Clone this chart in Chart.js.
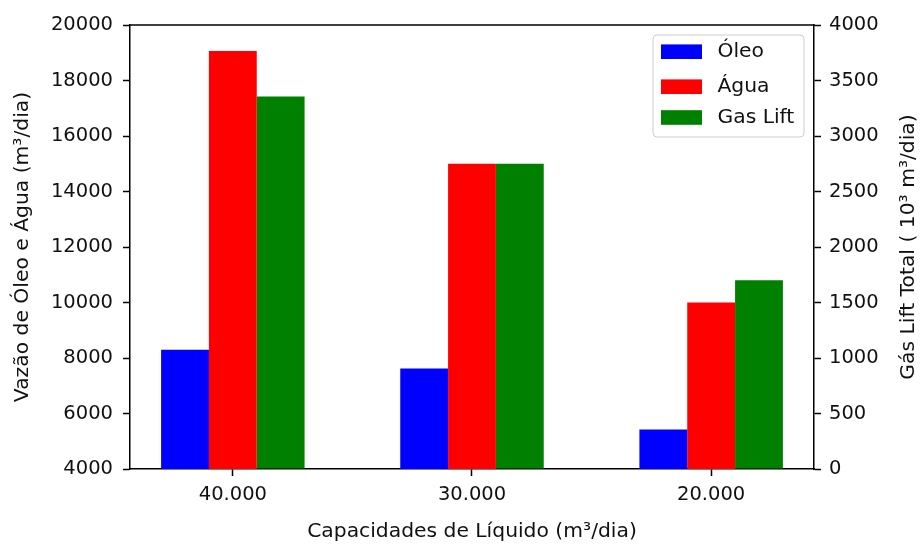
<!DOCTYPE html>
<html>
<head>
<meta charset="utf-8">
<script src="https://cdn.jsdelivr.net/npm/chart.js@4/dist/chart.umd.min.js"></script>
<style>
  html, body { margin: 0; padding: 0; background: #ffffff; }
  #wrap { width: 920px; height: 544px; position: relative; }
</style>
</head>
<body>
<div id="wrap"><canvas id="c" width="920" height="544"></canvas></div>
<script>
// ---- data ----
const categories = ['40.000', '30.000', '20.000'];
const oleo = [8300, 7620, 5420];        // left axis (m³/dia)
const agua = [19060, 15000, 10000];     // left axis (m³/dia)
const gasLift = [3355, 2750, 1700];     // right axis (10³ m³/dia)
const seriesNames = ['Óleo', 'Água', 'Gas Lift'];
const leftTicks = [4000, 6000, 8000, 10000, 12000, 14000, 16000, 18000, 20000];
const rightTicks = [0, 500, 1000, 1500, 2000, 2500, 3000, 3500, 4000];

const xTitle = 'Capacidades de Líquido (m³/dia)';
const yTitle = 'Vazão de Óleo e Água (m³/dia)';
const y1Title = 'Gás Lift Total ( 10³ m³/dia)';

const FONT = 'DejaVu Sans';
const FS = 19.5;     // tick labels
const FT = 20.3;     // titles and legend
const TXT = '#111111';

function pts(arr) { return arr.map((v, i) => ({ x: i, y: v })); }

const topSpine = {
  id: 'topSpine',
  afterDraw(chart) {
    const { ctx, chartArea: a } = chart;
    ctx.save();
    ctx.strokeStyle = '#000';
    ctx.lineWidth = 1.5;
    ctx.beginPath();
    ctx.moveTo(a.left - 0.75, a.top);
    ctx.lineTo(a.right + 0.75, a.top);
    ctx.stroke();
    ctx.restore();
  }
};

const rightTitle = {
  id: 'rightTitle',
  afterDraw(chart) {
    const { ctx, chartArea: a } = chart;
    ctx.save();
    ctx.fillStyle = TXT;
    ctx.font = FT + 'px "' + FONT + '"';
    ctx.translate(908.5, (a.top + a.bottom) / 2);
    ctx.rotate(-Math.PI / 2);
    ctx.textAlign = 'center';
    ctx.textBaseline = 'middle';
    ctx.fillText(y1Title, 0, 0);
    ctx.restore();
  }
};

const mplLegend = {
  id: 'mplLegend',
  afterDraw(chart) {
    const { ctx } = chart;
    const bx = 653, by = 35, bw = 151, bh = 102, r = 4;
    ctx.save();
    ctx.fillStyle = 'rgba(255,255,255,0.8)';
    ctx.strokeStyle = '#cccccc';
    ctx.lineWidth = 1;
    ctx.beginPath();
    ctx.moveTo(bx + r, by);
    ctx.lineTo(bx + bw - r, by);
    ctx.quadraticCurveTo(bx + bw, by, bx + bw, by + r);
    ctx.lineTo(bx + bw, by + bh - r);
    ctx.quadraticCurveTo(bx + bw, by + bh, bx + bw - r, by + bh);
    ctx.lineTo(bx + r, by + bh);
    ctx.quadraticCurveTo(bx, by + bh, bx, by + bh - r);
    ctx.lineTo(bx, by + r);
    ctx.quadraticCurveTo(bx, by, bx + r, by);
    ctx.closePath();
    ctx.fill();
    ctx.stroke();
    const rows = [16.7, 51.7, 82.5];
    ctx.font = FT + 'px "' + FONT + '"';
    ctx.textBaseline = 'middle';
    ctx.textAlign = 'left';
    chart.data.datasets.forEach((ds, i) => {
      const cy = by + rows[i];
      ctx.fillStyle = ds.backgroundColor;
      ctx.fillRect(661, cy - 7.3, 41, 14.6);
      ctx.fillStyle = TXT;
      ctx.fillText(ds.label, 717.5, cy + 0.5);
    });
    ctx.restore();
  }
};

const tickGrid = {
  display: true, drawOnChartArea: false, drawTicks: true,
  tickLength: 7, tickWidth: 1.5, tickColor: '#000', offset: false
};
const border = { display: true, color: '#000', width: 1.5 };
const tickFont = { family: FONT, size: FS };
const titleFont = { family: FONT, size: FT };

new Chart(document.getElementById('c'), {
  type: 'bar',
  data: {
    datasets: [
      { label: seriesNames[0], data: pts(oleo), backgroundColor: '#0000ff', yAxisID: 'y' },
      { label: seriesNames[1], data: pts(agua), backgroundColor: '#ff0000', yAxisID: 'y' },
      { label: seriesNames[2], data: pts(gasLift), backgroundColor: '#008000', yAxisID: 'y1' }
    ]
  },
  options: {
    responsive: false,
    animation: false,
    events: [],
    layout: { padding: { top: 25, left: 0, right: 0, bottom: 0 } },
    datasets: { bar: { categoryPercentage: 0.6, barPercentage: 1.0, borderWidth: 0 } },
    plugins: { legend: { display: false }, tooltip: { enabled: false }, title: { display: false } },
    scales: {
      x: {
        type: 'linear', offset: false, min: -0.43, max: 2.43,
        grid: tickGrid, border: border,
        afterBuildTicks(s) { s.ticks = categories.map((c, i) => ({ value: i })); },
        afterFit(s) { s.height = 75; },
        ticks: { font: tickFont, color: TXT, padding: 7, maxRotation: 0, autoSkip: false,
          callback: (v) => categories[v] },
        title: { display: true, text: xTitle, font: titleFont, color: TXT, padding: { top: 0, bottom: 0 } }
      },
      y: {
        type: 'linear', position: 'left', min: 4000, max: 20000,
        grid: tickGrid, border: border,
        afterBuildTicks(s) { s.ticks = leftTicks.map(v => ({ value: v })); },
        afterFit(s) { s.width = 130; },
        ticks: { font: tickFont, color: TXT, padding: 10, callback: (v) => String(v) },
        title: { display: true, text: yTitle, font: titleFont, color: TXT, padding: { top: 11, bottom: 0 } }
      },
      y1: {
        type: 'linear', position: 'right', min: 0, max: 4000,
        grid: tickGrid, border: border,
        afterBuildTicks(s) { s.ticks = rightTicks.map(v => ({ value: v })); },
        afterFit(s) { s.width = 106; },
        ticks: { font: tickFont, color: TXT, padding: 8, callback: (v) => String(v) },
        title: { display: false }
      }
    }
  },
  plugins: [topSpine, rightTitle, mplLegend]
});
</script>
</body>
</html>
